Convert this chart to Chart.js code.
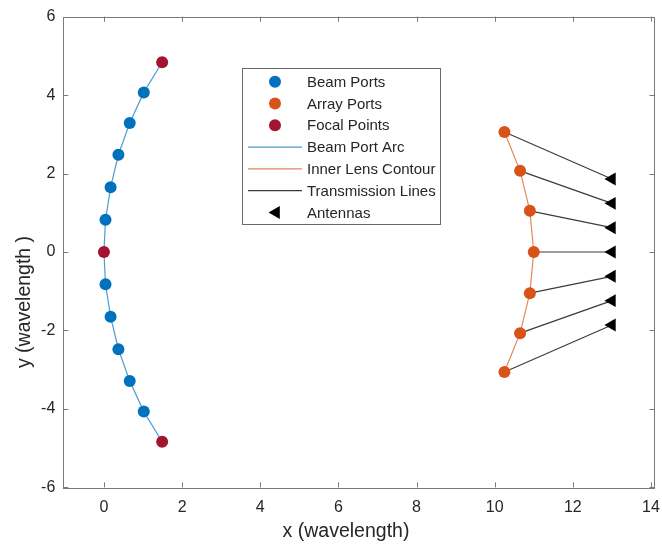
<!DOCTYPE html>
<html>
<head>
<meta charset="utf-8">
<script src="https://cdn.jsdelivr.net/npm/chart.js@4"></script>
<style>
  html, body { margin: 0; padding: 0; background: #fff; }
  #wrap { width: 662px; height: 547px; }
</style>
</head>
<body>
<div id="wrap"><canvas id="lens-chart" width="662" height="547"></canvas></div>
<script>
// ── Data (wavelengths) ───────────────────────────────────────────
const beamX    = [1.02, 0.66, 0.37, 0.17, 0.04, 0.04, 0.17, 0.37, 0.66, 1.02];
const beamY    = [4.07, 3.29, 2.48, 1.65, 0.82, -0.82, -1.65, -2.48, -3.29, -4.07];
const focalX   = [1.49, 0, 1.49];
const focalY   = [4.84, 0, -4.84];
const arrayX   = [10.25, 10.65, 10.9, 11.0, 10.9, 10.65, 10.25];
const arrayY   = [3.06, 2.07, 1.05, 0, -1.05, -2.07, -3.06];
const antennaX = [13, 13, 13, 13, 13, 13, 13];
const antennaY = [1.86, 1.24, 0.62, 0, -0.62, -1.24, -1.86];
const xTicks   = [0, 2, 4, 6, 8, 10, 12, 14];
const yTicks   = [-6, -4, -2, 0, 2, 4, 6];
const xTitle   = 'x (wavelength)';
const yTitle   = 'y (wavelength )';

const BLUE     = '#0072BD';
const ORANGE   = '#D95319';
const RED      = '#A2142F';
const ARC      = 'rgba(0,114,189,0.7)';
const CONTOUR  = 'rgba(217,83,25,0.7)';
const TX       = '#3c3c3c';
const TEXT     = '#262626';
const FONT     = '"Liberation Sans", Arial, sans-serif';

const pts = (xs, ys) => xs.map((x, i) => ({ x, y: ys[i] }));

// arc runs focal top -> beam ports -> centre focal -> beam ports -> focal bottom
const beamPts = pts(beamX, beamY);
const arcPts = [
  { x: focalX[0], y: focalY[0] },
  ...beamPts.slice(0, 5),
  { x: focalX[1], y: focalY[1] },
  ...beamPts.slice(5),
  { x: focalX[2], y: focalY[2] }
];

const lineSet = (label, data, color) => ({
  label, data, showLine: true, borderColor: color, borderWidth: 1.2,
  pointRadius: 0, pointHoverRadius: 0, fill: false
});
const dotSet = (label, data, color) => ({
  label, data, showLine: false, backgroundColor: color, borderColor: color,
  borderWidth: 0, pointRadius: 6, pointHoverRadius: 6
});

const txLines = arrayX.map((x, i) => lineSet('Transmission Lines',
  [{ x, y: arrayY[i] }, { x: antennaX[i], y: antennaY[i] }], TX));

// index 0 is painted last, so markers go first
const datasets = [
  dotSet('Beam Ports', beamPts, BLUE),
  dotSet('Array Ports', pts(arrayX, arrayY), ORANGE),
  dotSet('Focal Points', pts(focalX, focalY), RED),
  {
    label: 'Antennas', data: pts(antennaX, antennaY), showLine: false,
    pointStyle: 'triangle', pointRotation: -90, pointRadius: 7.5, pointHoverRadius: 7.5,
    backgroundColor: '#000', borderColor: '#000', borderWidth: 0
  },
  lineSet('Beam Port Arc', arcPts, ARC),
  lineSet('Inner Lens Contour', pts(arrayX, arrayY), CONTOUR),
  ...txLines
];

// ── Matlab-ish frame, labels and legend ──────────────────────────
const legendRows = [
  { text: 'Beam Ports',         kind: 'dot',  color: BLUE },
  { text: 'Array Ports',        kind: 'dot',  color: ORANGE },
  { text: 'Focal Points',       kind: 'dot',  color: RED },
  { text: 'Beam Port Arc',      kind: 'line', color: ARC },
  { text: 'Inner Lens Contour', kind: 'line', color: CONTOUR },
  { text: 'Transmission Lines', kind: 'line', color: TX },
  { text: 'Antennas',           kind: 'tri',  color: '#000' }
];

const matlabBox = {
  id: 'matlabBox',
  afterDatasetsDraw(chart) {
    const { ctx: c, chartArea: a, scales } = chart;
    c.save();

    // box with inward ticks on all four sides
    c.strokeStyle = '#7a7a7a';
    c.lineWidth = 1;
    c.strokeRect(Math.round(a.left) + 0.5, Math.round(a.top) + 0.5,
                 Math.round(a.right - a.left), Math.round(a.bottom - a.top));
    const tl = 5;
    c.beginPath();
    xTicks.forEach(v => {
      const x = Math.round(scales.x.getPixelForValue(v)) + 0.5;
      c.moveTo(x, a.bottom); c.lineTo(x, a.bottom - tl);
      c.moveTo(x, a.top);    c.lineTo(x, a.top + tl);
    });
    yTicks.forEach(v => {
      const y = Math.round(scales.y.getPixelForValue(v)) + 0.5;
      c.moveTo(a.left, y);  c.lineTo(a.left + tl, y);
      c.moveTo(a.right, y); c.lineTo(a.right - tl, y);
    });
    c.stroke();

    // axis titles (sit off-centre in the source figure)
    c.fillStyle = TEXT;
    c.font = `19.5px ${FONT}`;
    c.textAlign = 'center';
    c.textBaseline = 'middle';
    c.fillText(xTitle, 346, 532);
    c.save();
    c.translate(25, 302);
    c.rotate(-Math.PI / 2);
    c.fillText(yTitle, 0, 0);
    c.restore();

    // legend
    const bx = 242, by = 68, bw = 198, bh = 156, rowH = 21.8, y0 = 81.7;
    c.fillStyle = '#fff';
    c.fillRect(bx, by, bw, bh);
    c.strokeStyle = '#6a6a6a';
    c.strokeRect(bx + 0.5, by + 0.5, bw, bh);
    c.font = `15px ${FONT}`;
    c.textAlign = 'left';
    legendRows.forEach((r, i) => {
      const y = y0 + i * rowH;
      if (r.kind === 'dot') {
        c.fillStyle = r.color;
        c.beginPath(); c.arc(275, y, 6, 0, Math.PI * 2); c.fill();
      } else if (r.kind === 'line') {
        c.strokeStyle = r.color; c.lineWidth = 1.2;
        c.beginPath(); c.moveTo(248, y); c.lineTo(302, y); c.stroke();
      } else {
        c.fillStyle = r.color;
        c.beginPath();
        c.moveTo(268.5, y); c.lineTo(279.8, y - 6.5); c.lineTo(279.8, y + 6.5);
        c.closePath(); c.fill();
      }
      c.fillStyle = TEXT;
      c.fillText(r.text, 307, y + 1);
    });
    c.restore();
  }
};

// ── Chart ────────────────────────────────────────────────────────
new Chart(document.getElementById('lens-chart').getContext('2d'), {
  type: 'scatter',
  data: { datasets },
  options: {
    responsive: false,
    animation: false,
    layout: { padding: { top: 16.7, right: 5, left: 0, bottom: 0 } },
    plugins: { legend: { display: false }, tooltip: { enabled: false } },
    scales: {
      x: {
        type: 'linear', min: -1.04, max: 14.09,
        afterBuildTicks: s => { s.ticks = xTicks.map(value => ({ value })); },
        afterFit: s => { s.height = 59.7; s.paddingLeft = 0; s.paddingRight = 0; },
        grid: { display: false, drawTicks: false },
        border: { display: false },
        ticks: { color: TEXT, padding: 11, font: { family: FONT, size: 16 } }
      },
      y: {
        type: 'linear', min: -6, max: 6,
        afterBuildTicks: s => { s.ticks = yTicks.map(value => ({ value })); },
        afterFit: s => { s.width = 63.3; s.paddingTop = 0; s.paddingBottom = 0; },
        grid: { display: false, drawTicks: false },
        border: { display: false },
        ticks: { color: TEXT, padding: 8, font: { family: FONT, size: 16 } }
      }
    }
  },
  plugins: [matlabBox]
});
</script>
</body>
</html>
